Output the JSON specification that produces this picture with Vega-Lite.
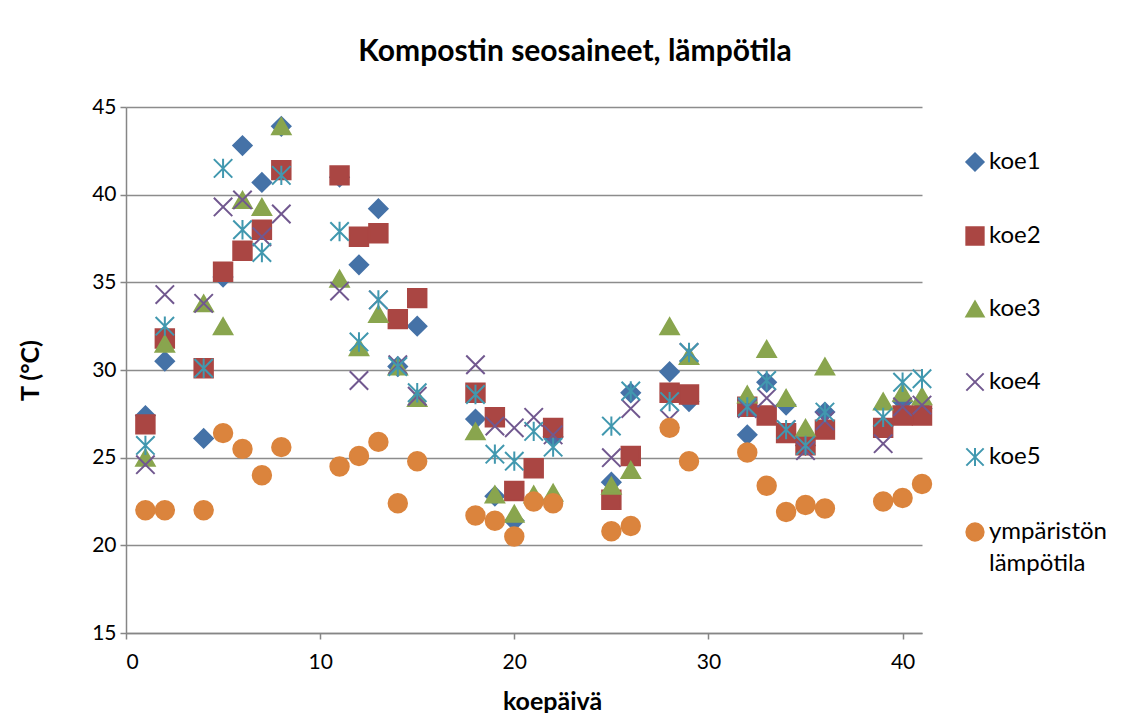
{
  "$schema": "https://vega.github.io/schema/vega-lite/v6.json",
  "autosize": {"type": "none"},
  "width": 796,
  "height": 526,
  "padding": {"left": 126, "top": 107, "right": 210, "bottom": 80},
  "background": "white",
  "title": {
    "text": "Kompostin seosaineet, lämpötila",
    "font": "Lato",
    "fontSize": 30,
    "fontWeight": "bold",
    "color": "#000000",
    "anchor": "middle",
    "baseline": "alphabetic",
    "dx": 51,
    "offset": 5
  },
  "data": {
    "values": [
      {"d": 1, "koe1": 27.4, "koe2": 26.9, "koe3": 25.0, "koe4": 24.6, "koe5": 25.7, "ympäristön lämpötila": 22.0},
      {"d": 2, "koe1": 30.5, "koe2": 31.8, "koe3": 31.5, "koe4": 34.3, "koe5": 32.5, "ympäristön lämpötila": 22.0},
      {"d": 4, "koe1": 26.1, "koe2": 30.1, "koe3": 33.8, "koe4": 33.8, "koe5": 30.1, "ympäristön lämpötila": 22.0},
      {"d": 5, "koe1": 35.3, "koe2": 35.6, "koe3": 32.5, "koe4": 39.3, "koe5": 41.5, "ympäristön lämpötila": 26.4},
      {"d": 6, "koe1": 42.8, "koe2": 36.8, "koe3": 39.7, "koe4": 39.7, "koe5": 38.0, "ympäristön lämpötila": 25.5},
      {"d": 7, "koe1": 40.7, "koe2": 38.0, "koe3": 39.3, "koe4": 37.6, "koe5": 36.7, "ympäristön lämpötila": 24.0},
      {"d": 8, "koe1": 43.9, "koe2": 41.4, "koe3": 43.9, "koe4": 38.9, "koe5": 41.1, "ympäristön lämpötila": 25.6},
      {"d": 11, "koe1": 41.0, "koe2": 41.1, "koe3": 35.2, "koe4": 34.5, "koe5": 37.9, "ympäristön lämpötila": 24.5},
      {"d": 12, "koe1": 36.0, "koe2": 37.6, "koe3": 31.3, "koe4": 29.4, "koe5": 31.6, "ympäristön lämpötila": 25.1},
      {"d": 13, "koe1": 39.2, "koe2": 37.8, "koe3": 33.2, "koe4": 34.0, "koe5": 34.0, "ympäristön lämpötila": 25.9},
      {"d": 14, "koe1": 30.2, "koe2": 32.9, "koe3": 30.2, "koe4": 30.3, "koe5": 30.2, "ympäristön lämpötila": 22.4},
      {"d": 15, "koe1": 32.5, "koe2": 34.1, "koe3": 28.4, "koe4": 28.5, "koe5": 28.7, "ympäristön lämpötila": 24.8},
      {"d": 18, "koe1": 27.2, "koe2": 28.7, "koe3": 26.5, "koe4": 30.3, "koe5": 28.6, "ympäristön lämpötila": 21.7},
      {"d": 19, "koe1": 22.8, "koe2": 27.3, "koe3": 22.9, "koe4": 26.8, "koe5": 25.2, "ympäristön lämpötila": 21.4},
      {"d": 20, "koe1": 21.4, "koe2": 23.1, "koe3": 21.8, "koe4": 26.7, "koe5": 24.8, "ympäristön lämpötila": 20.5},
      {"d": 21, "koe1": 22.6, "koe2": 24.4, "koe3": 22.9, "koe4": 27.3, "koe5": 26.5, "ympäristön lämpötila": 22.5},
      {"d": 22, "koe1": 26.2, "koe2": 26.7, "koe3": 23.0, "koe4": 26.3, "koe5": 25.6, "ympäristön lämpötila": 22.4},
      {"d": 25, "koe1": 23.6, "koe2": 22.6, "koe3": 23.4, "koe4": 25.0, "koe5": 26.8, "ympäristön lämpötila": 20.8},
      {"d": 26, "koe1": 28.7, "koe2": 25.1, "koe3": 24.3, "koe4": 27.8, "koe5": 28.8, "ympäristön lämpötila": 21.1},
      {"d": 28, "koe1": 29.9, "koe2": 28.7, "koe3": 32.5, "koe4": 27.2, "koe5": 28.2, "ympäristön lämpötila": 26.7},
      {"d": 29, "koe1": 28.2, "koe2": 28.6, "koe3": 30.8, "koe4": 31.0, "koe5": 31.0, "ympäristön lämpötila": 24.8},
      {"d": 32, "koe1": 26.3, "koe2": 27.9, "koe3": 28.6, "koe4": 27.8, "koe5": 27.9, "ympäristön lämpötila": 25.3},
      {"d": 33, "koe1": 29.3, "koe2": 27.4, "koe3": 31.2, "koe4": 28.4, "koe5": 29.4, "ympäristön lämpötila": 23.4},
      {"d": 34, "koe1": 28.0, "koe2": 26.4, "koe3": 28.4, "koe4": 26.6, "koe5": 26.6, "ympäristön lämpötila": 21.9},
      {"d": 35, "koe1": 25.7, "koe2": 25.7, "koe3": 26.7, "koe4": 25.4, "koe5": 25.7, "ympäristön lämpötila": 22.3},
      {"d": 36, "koe1": 27.6, "koe2": 26.6, "koe3": 30.2, "koe4": 27.1, "koe5": 27.6, "ympäristön lämpötila": 22.1},
      {"d": 39, "koe1": 26.8, "koe2": 26.7, "koe3": 28.2, "koe4": 25.8, "koe5": 27.3, "ympäristön lämpötila": 22.5},
      {"d": 40, "koe1": 28.2, "koe2": 27.4, "koe3": 28.7, "koe4": 27.9, "koe5": 29.3, "ympäristön lämpötila": 22.7},
      {"d": 41, "koe1": 27.8, "koe2": 27.4, "koe3": 28.5, "koe4": 28.0, "koe5": 29.5, "ympäristön lämpötila": 23.5}
    ]
  },
  "transform": [
    {"fold": ["koe1", "koe2", "koe3", "koe4", "koe5", "ympäristön lämpötila"], "as": ["sarja", "T"]}
  ],
  "mark": {"type": "point", "size": 340, "strokeWidth": 2, "opacity": 1},
  "encoding": {
    "x": {
      "field": "d",
      "type": "quantitative",
      "scale": {"domain": [0, 41], "nice": false, "zero": false},
      "axis": {
        "title": "koepäivä",
        "values": [0, 10, 20, 30, 40],
        "grid": false,
        "titleX": 426,
        "titleY": 68,
        "titleBaseline": "middle",
        "labelPadding": 12
      }
    },
    "y": {
      "field": "T",
      "type": "quantitative",
      "scale": {"domain": [15, 45], "nice": false, "zero": false},
      "axis": {
        "title": "T (°C)",
        "values": [15, 20, 25, 30, 35, 40, 45],
        "grid": true,
        "titleAngle": -90,
        "titleX": -96,
        "titleY": 263,
        "titleAlign": "center",
        "titleBaseline": "middle",
        "labelPadding": 4
      }
    },
    "order": {"field": "sarja", "type": "nominal"},
    "shape": {
      "field": "sarja",
      "type": "nominal",
      "scale": {
        "domain": ["koe1", "koe2", "koe3", "koe4", "koe5", "ympäristön lämpötila"],
        "range": ["diamond", "square", "triangle-up", "M-1,-1L1,1M-1,1L1,-1", "M-1,-1L1,1M-1,1L1,-1M0,-1.05L0,1.05", "circle"]
      },
      "legend": {
        "title": null,
        "orient": "none",
        "legendX": 837,
        "legendY": 43,
        "padding": 0,
        "rowPadding": 48,
        "symbolSize": 300,
        "symbolStrokeWidth": 2,
        "labelFont": "Lato",
        "labelFontSize": 24,
        "labelColor": "#000000",
        "labelOffset": 2,
        "labelLimit": 200,
        "labelExpr": "datum.label == 'ympäristön lämpötila' ? ['ympäristön', 'lämpötila'] : datum.label"
      }
    },
    "fill": {
      "field": "sarja",
      "type": "nominal",
      "scale": {
        "domain": ["koe1", "koe2", "koe3", "koe4", "koe5", "ympäristön lämpötila"],
        "range": ["#4572A7", "#AA4643", "#89A54E", "transparent", "transparent", "#DB843D"]
      },
      "legend": {
        "title": null,
        "orient": "none",
        "legendX": 837,
        "legendY": 43,
        "padding": 0,
        "rowPadding": 48,
        "symbolSize": 300,
        "symbolStrokeWidth": 2,
        "labelFont": "Lato",
        "labelFontSize": 24,
        "labelColor": "#000000",
        "labelOffset": 2,
        "labelLimit": 200,
        "labelExpr": "datum.label == 'ympäristön lämpötila' ? ['ympäristön', 'lämpötila'] : datum.label"
      }
    },
    "stroke": {
      "field": "sarja",
      "type": "nominal",
      "scale": {
        "domain": ["koe1", "koe2", "koe3", "koe4", "koe5", "ympäristön lämpötila"],
        "range": ["#4572A7", "#AA4643", "#89A54E", "#71588F", "#4198AF", "#DB843D"]
      },
      "legend": {
        "title": null,
        "orient": "none",
        "legendX": 837,
        "legendY": 43,
        "padding": 0,
        "rowPadding": 48,
        "symbolSize": 300,
        "symbolStrokeWidth": 2,
        "labelFont": "Lato",
        "labelFontSize": 24,
        "labelColor": "#000000",
        "labelOffset": 2,
        "labelLimit": 200,
        "labelExpr": "datum.label == 'ympäristön lämpötila' ? ['ympäristön', 'lämpötila'] : datum.label"
      }
    }
  },
  "config": {
    "view": {"stroke": null},
    "style": {"guide-label": {"lineHeight": 32}},
    "axis": {
      "labelFont": "Lato",
      "labelFontSize": 21,
      "labelColor": "#000000",
      "titleFont": "Lato",
      "titleFontSize": 25,
      "titleFontWeight": "bold",
      "titleColor": "#000000",
      "domainColor": "#868686",
      "domainWidth": 1.5,
      "tickColor": "#868686",
      "tickWidth": 1.5,
      "tickSize": 6,
      "gridColor": "#8c8c8c",
      "gridWidth": 1.3
    }
  }
}
